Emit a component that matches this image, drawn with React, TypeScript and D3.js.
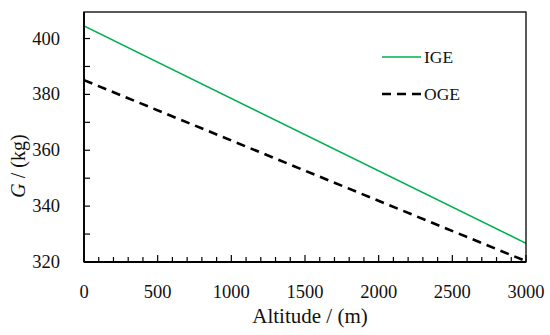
import React from "react";
import * as d3 from "d3";

const altitudes = [0, 3000];
const igeValues = [404.5, 326.7];
const ogeValues = [385.1, 320.3];
const xTicks = [0, 500, 1000, 1500, 2000, 2500, 3000];
const yTicks = [320, 340, 360, 380, 400];
const seriesNames = ["IGE", "OGE"];

export default function App() {
  const W = 550, H = 335;
  const left = 84, right = 526, top = 12, bottom = 262;
  const x = d3.scaleLinear().domain([0, 3000]).range([left, right]);
  const y = d3.scaleLinear().domain([320, 409.5]).range([bottom, top]);
  const line = d3.line<[number, number]>().x(d => x(d[0])).y(d => y(d[1]));
  const ige = altitudes.map((a, i) => [a, igeValues[i]] as [number, number]);
  const oge = altitudes.map((a, i) => [a, ogeValues[i]] as [number, number]);
  const minorX = d3.range(0, 3001, 100);
  const minorY = d3.range(320, 410, 10);
  const font = "Liberation Serif";
  return (
    <svg width={W} height={H} style={{ position: "absolute", left: 0, top: 0 }}>
      <rect x={0} y={0} width={W} height={H} fill="#fff" />
      <defs>
        <clipPath id="plot">
          <rect x={left} y={top} width={right - left} height={bottom - top} />
        </clipPath>
      </defs>
      <g clipPath="url(#plot)">
        <path d={line(ige) ?? ""} fill="none" stroke="#00B050" strokeWidth={1.6} />
        <path d={line(oge) ?? ""} fill="none" stroke="#000" strokeWidth={2.6} strokeDasharray="9,6" />
      </g>
      {minorX.map(v => (
        <line key={"mx" + v} x1={x(v)} x2={x(v)} y1={bottom} y2={bottom - (v % 500 === 0 ? 7 : 5)} stroke="#000" strokeWidth={1.2} />
      ))}
      {minorY.map(v => (
        <line key={"my" + v} x1={left} x2={left + 6} y1={y(v)} y2={y(v)} stroke="#000" strokeWidth={1.2} />
      ))}
      <rect x={left} y={top} width={right - left} height={bottom - top} fill="none" stroke="#000" strokeWidth={1.3} />
      <line x1={left} x2={right} y1={bottom} y2={bottom} stroke="#000" strokeWidth={1.8} />
      <line x1={left} x2={left} y1={top} y2={bottom} stroke="#000" strokeWidth={1.8} />
      <g fontFamily={font} fill="#111">
        {xTicks.map(v => (
          <text key={"xt" + v} x={x(v)} y={298} textAnchor="middle" fontSize={18.5}>{v}</text>
        ))}
        {yTicks.map(v => (
          <text key={"yt" + v} x={60} y={y(v) + 6} textAnchor="end" fontSize={18.5}>{v}</text>
        ))}
        <text x={310} y={323} textAnchor="middle" fontSize={21}>Altitude / (m)</text>
        <text transform="translate(25,166) rotate(-90)" textAnchor="middle" fontSize={20}>
          <tspan fontStyle="italic">G</tspan> / (kg)
        </text>
        <text x={424} y={63} fontSize={17.5}>{seriesNames[0]}</text>
        <text x={424} y={100} fontSize={17.5}>{seriesNames[1]}</text>
      </g>
      <line x1={382} x2={421} y1={57} y2={57} stroke="#00B050" strokeWidth={1.6} />
      <line x1={382} x2={421} y1={94} y2={94} stroke="#000" strokeWidth={2.6} strokeDasharray="9,6" />
    </svg>
  );
}
